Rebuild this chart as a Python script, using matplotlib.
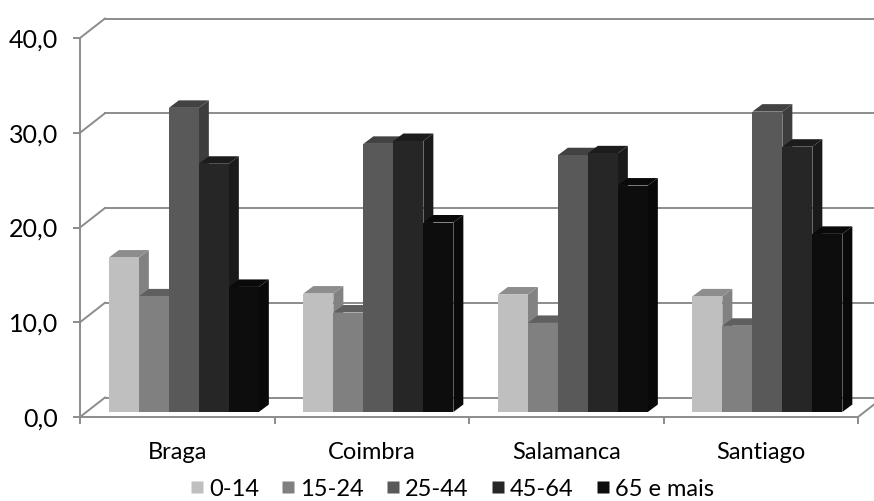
import matplotlib
matplotlib.use("Agg")
import matplotlib.pyplot as plt
from matplotlib.patches import Polygon
from matplotlib.lines import Line2D
import numpy as np

plt.rcParams['font.family'] = ['Lato', 'DejaVu Sans']

categories = ['Braga', 'Coimbra', 'Salamanca', 'Santiago']
series = ['0-14', '15-24', '25-44', '45-64', '65 e mais']
v_0_14 = [16.3, 12.5, 12.4, 12.2]
v_15_24 = [12.2, 10.5, 9.4, 9.1]
v_25_44 = [32.1, 28.3, 27.1, 31.7]
v_45_64 = [26.2, 28.6, 27.3, 28.0]
v_65 = [13.2, 20.0, 23.9, 18.8]
values = [v_0_14, v_15_24, v_25_44, v_45_64, v_65]
yticks = [0, 10, 20, 30, 40]
ytick_labels = ['0,0', '10,0', '20,0', '30,0', '40,0']

colors = ['#bfbfbf', '#808080', '#595959', '#262626', '#0d0d0d']

def shade(c, f):
    r, g, b = matplotlib.colors.to_rgb(c)
    return (r * f, g * f, b * f)

W, H = 874, 501
fig = plt.figure(figsize=(W / 100, H / 100), dpi=100)
ax = fig.add_axes([80 / W, (H - 417) / H, 778 / W, 379 / H])
ax.set_xlim(0, 4)
ax.set_ylim(0, 40)

pxx = 194.5   # px per category unit
pxy = 9.475   # px per value unit
WX, WY = 25 / pxx, 19.5 / pxy      # wall depth
FX, FY = 6.6 / pxx, 5 / pxy        # bar front offset
BX, BY = 10 / pxx, 7.5 / pxy       # bar depth
bw = 30 / pxx
gap = (1 - 5 * bw) / 2

grid_c = '#8c8c8c'
for v in yticks:
    ax.plot([0, WX], [v, v + WY], color=grid_c, lw=1.4, clip_on=False, zorder=1)
    ax.plot([WX, 4 + WX], [v + WY, v + WY], color=grid_c, lw=1.4, clip_on=False, zorder=1)
ax.plot([4, 4 + WX], [0, WY], color=grid_c, lw=1.4, clip_on=False, zorder=1)

z = 3
for i in range(len(categories)):
    for j in range(len(series)):
        h = values[j][i]
        x0 = i + gap + FX + j * bw
        y0 = FY
        x1 = x0 + bw
        y1 = FY + h
        front = Polygon([(x0, y0), (x1, y0), (x1, y1), (x0, y1)], closed=True,
                        facecolor=colors[j], edgecolor='none', clip_on=False, zorder=z + 0.5)
        side = Polygon([(x1, y0), (x1 + BX, y0 + BY), (x1 + BX, y1 + BY), (x1, y1)], closed=True,
                       facecolor=shade(colors[j], 0.68), edgecolor='none', clip_on=False, zorder=z)
        top = Polygon([(x0, y1), (x1, y1), (x1 + BX, y1 + BY), (x0 + BX, y1 + BY)], closed=True,
                      facecolor=shade(colors[j], 0.74), edgecolor='none', clip_on=False, zorder=z)
        ax.add_patch(side)
        ax.add_patch(top)
        ax.add_patch(front)
        z += 1

for s in ['top', 'right']:
    ax.spines[s].set_visible(False)
for s in ['left', 'bottom']:
    ax.spines[s].set_color(grid_c)
    ax.spines[s].set_linewidth(1.4)
    ax.spines[s].set_zorder(2)

ax.set_yticks(yticks)
ax.set_yticklabels(ytick_labels)
ax.tick_params(axis='y', direction='out', length=5, width=1.4, color=grid_c,
               pad=11, labelsize=18, labelcolor='black')

ax.set_xticks([i + 0.5 for i in range(len(categories))])
ax.set_xticklabels(categories)
ax.set_xticks(range(len(categories) + 1), minor=True)
ax.tick_params(axis='x', which='major', length=0, pad=18, labelsize=17, labelcolor='black')
ax.tick_params(axis='x', which='minor', direction='out', length=5, width=1.4, color=grid_c)
ax.set_facecolor('none')

handles = [Line2D([], [], marker='s', linestyle='none', markersize=8.5,
                  markerfacecolor=c, markeredgecolor='none') for c in colors]
fig.legend(handles, series, loc='center', bbox_to_anchor=(452 / W, (H - 489) / H),
           ncol=5, frameon=False, fontsize=17, handlelength=0.6, handletextpad=0.2,
           columnspacing=0.95, borderaxespad=0, borderpad=0)

fig.savefig('out.png', dpi=100)
